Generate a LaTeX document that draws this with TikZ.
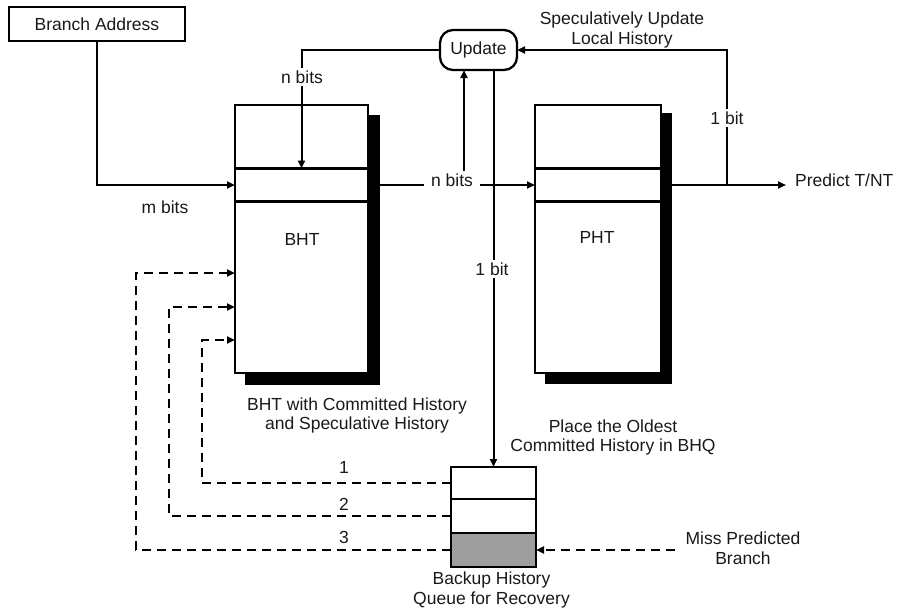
\documentclass[tikz,border=0pt]{standalone}
\usepackage{fontspec}
\setmainfont{Liberation Sans}
\usetikzlibrary{arrows.meta}
\begin{document}
\begin{tikzpicture}[x=1pt,y=-1pt,
  font=\fontsize{17.5}{19.5}\selectfont,
  blockbox/.style={draw=black, line width=2.3pt, fill=white, inner sep=0pt, outer sep=0pt, text=black!90},
  shadowblk/.style={fill=black, draw=none, inner sep=0pt, outer sep=0pt},
  conn/.style={line width=2pt, draw=black},
  arr/.style={conn, -{Triangle[length=8pt,width=7pt]}},
  darr/.style={conn, dash pattern=on 9pt off 6pt, -{Triangle[length=8pt,width=7pt]}},
  lbl/.style={text=black!90, inner sep=1pt},
  gaplbl/.style={lbl, fill=white, inner xsep=7pt, inner ysep=3pt},
  twoline/.style={lbl, align=center}
]
\useasboundingbox (0,0) rectangle (898,608);

% Branch address
\node[blockbox, minimum width=176pt, minimum height=34pt] (ba) at (97,24) {Branch Address};

% BHT
\node[shadowblk, minimum width=135pt, minimum height=270pt] (bhtsh) at (312.5,250) {};
\node[blockbox, minimum width=133pt, minimum height=268pt] (bht) at (301.5,239) {};
\node[blockbox, minimum width=133pt, minimum height=33pt] (bhtrow) at (301.5,185) {};
\node[lbl] (bhtlbl) at (302,239) {BHT};

% PHT
\node[shadowblk, minimum width=127pt, minimum height=271pt] (phtsh) at (608.5,248.5) {};
\node[blockbox, minimum width=126pt, minimum height=268pt] (pht) at (598,239) {};
\node[blockbox, minimum width=126pt, minimum height=33pt] (phtrow) at (598,185) {};
\node[lbl] (phtlbl) at (597,237.5) {PHT};

% Update
\node[blockbox, rounded corners=13pt, minimum width=77pt, minimum height=40pt] (upd) at (478.5,50) {Update};
\node[twoline] (spec) at (622,30) {Speculatively Update\\Local History};

% BHQ
\node[blockbox, minimum width=85pt, minimum height=32pt] (q1) at (493.5,483) {};
\node[blockbox, minimum width=85pt, minimum height=34pt] (q2) at (493.5,516) {};
\node[blockbox, fill=black!38, minimum width=85pt, minimum height=34pt] (q3) at (493.5,550) {};

% solid connectors
\draw[arr] (ba.south) |- (bhtrow.west);
\node[lbl] (mbits) at (165,207) {m bits};
\draw[arr] (upd.west) -| (bhtrow.north);
\node[gaplbl] (nbits1) at (302,77) {n bits};
\draw[arr] (bhtsh.east |- phtrow.west) -- (phtrow.west);
\coordinate (j1) at (464,185);
\draw[arr] (j1) -- (j1 |- upd.south);
\node[gaplbl] (nbits2) at (452,180.5) {n bits};
\draw[arr] (upd.south -| q1.north) -- (q1.north);
\node[gaplbl] (onebit1) at (492,269) {1 bit};
\node[lbl, anchor=west, inner xsep=9pt] (pred) at (786,180) {Predict T/NT};
\draw[arr] (phtsh.east |- phtrow.west) -- (pred.west |- phtrow.west);
\coordinate (j2) at (727,185);
\draw[arr] (j2) |- (upd.east);
\node[gaplbl] (onebit2) at (727,118) {1 bit};

% dashed recovery paths
\coordinate (d1) at (202,340);
\coordinate (d2) at (169,307);
\coordinate (d3) at (136,273);
\draw[darr] (q1.west) -| (d1) -- (d1 -| bht.west);
\draw[darr] (q2.west) -| (d2) -- (d2 -| bht.west);
\draw[darr] (q3.west) -| (d3) -- (d3 -| bht.west);
\node[lbl] (n1) at (344,467) {1};
\node[lbl] (n2) at (344,504) {2};
\node[lbl] (n3) at (344,537) {3};

\node[twoline] (mp) at (743,548) {Miss Predicted\\Branch};
\coordinate (mpc) at (675,550);
\draw[darr] (mpc) -- (q3.east);

% captions
\node[twoline] (bhtcap) at (357,415.5) {BHT with Committed History\\and Speculative History};
\node[twoline] (placecap) at (613,437.5) {Place the Oldest\\Committed History in BHQ};
\node[twoline] (bhqcap) at (491.5,590) {Backup History\\Queue for Recovery};
\end{tikzpicture}
\end{document}
